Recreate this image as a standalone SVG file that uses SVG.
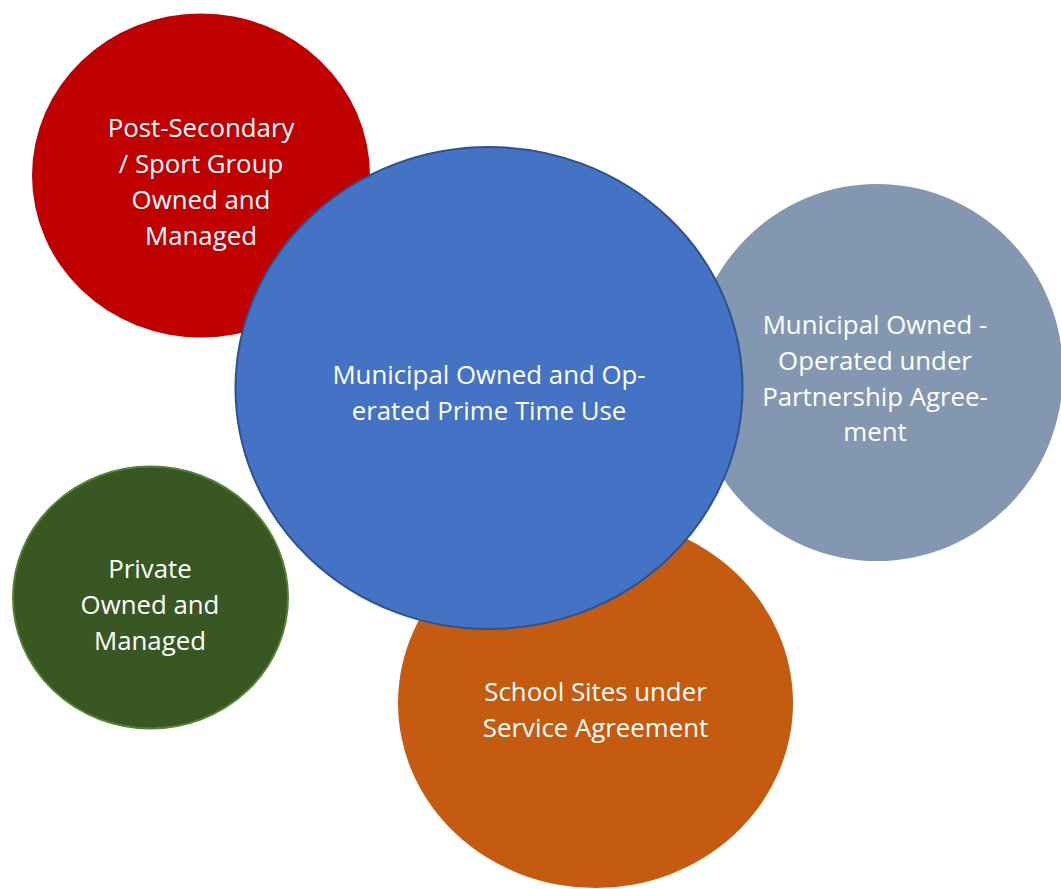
<svg xmlns="http://www.w3.org/2000/svg" width="1061" height="889" viewBox="0 0 1061 889">
<style>
.lbl{font-family:"Open Sans","Noto Sans","Liberation Sans",sans-serif;font-size:25.8px;fill:#FFFFFF;text-anchor:middle}
</style>
<rect width="1061" height="889" fill="#FFFFFF"/>
<g id="connectors"/>
<g id="node-post-secondary">
<ellipse cx="201" cy="175.5" rx="169" ry="162" fill="#C00000"/>
<text class="lbl"><tspan x="201" y="137">Post-Secondary</tspan><tspan x="201" y="173">/ Sport Group</tspan><tspan x="201" y="209">Owned and</tspan><tspan x="201" y="245">Managed</tspan></text>
</g>
<g id="node-partnership">
<ellipse cx="877" cy="372.5" rx="186" ry="188.5" fill="#8497B0"/>
<text class="lbl"><tspan x="875" y="334">Municipal Owned -</tspan><tspan x="875" y="370">Operated under</tspan><tspan x="875" y="406">Partnership Agree-</tspan><tspan x="875" y="441">ment</tspan></text>
</g>
<g id="node-private">
<ellipse cx="150.5" cy="597.5" rx="137.5" ry="131" fill="#385723" stroke="#548235" stroke-width="2"/>
<text class="lbl"><tspan x="150" y="578">Private</tspan><tspan x="150" y="614">Owned and</tspan><tspan x="150" y="650">Managed</tspan></text>
</g>
<g id="node-school">
<ellipse cx="595.5" cy="703" rx="197.5" ry="185" fill="#C55A11"/>
<text class="lbl"><tspan x="595.5" y="701">School Sites under</tspan><tspan x="595.5" y="737">Service Agreement</tspan></text>
</g>
<g id="node-municipal">
<ellipse cx="489" cy="388" rx="253.5" ry="241" fill="#4472C4" stroke="#2F528F" stroke-width="2"/>
<text class="lbl"><tspan x="489" y="384">Municipal Owned and Op-</tspan><tspan x="489" y="420">erated Prime Time Use</tspan></text>
</g>
</svg>
